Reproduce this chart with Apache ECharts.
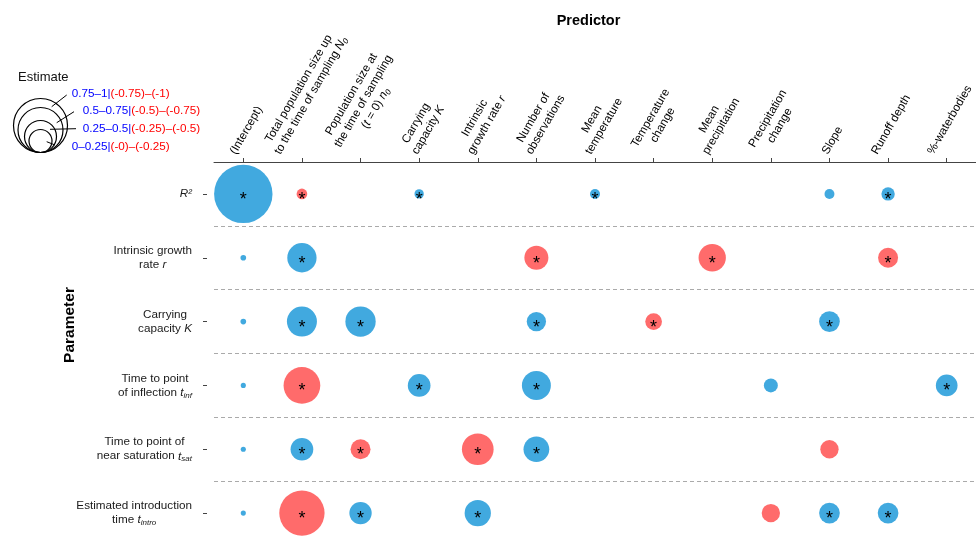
<!DOCTYPE html>
<html><head><meta charset="utf-8">
<script src="https://cdn.jsdelivr.net/npm/echarts@6/dist/echarts.min.js"></script>
<style>html,body{margin:0;padding:0;background:#fff}#c{width:976px;height:545px}</style>
</head><body><div id="c"></div>
<script>
// ---- categories (rich-text markup: n = normal, i = italic, s = subscript) ----
const predictors = [
  '{n|(Intercept)}',
  '{n|Total population size up}\n{n|to the time of sampling }{i|N}{s|0}',
  '{n|Population size at}\n{n|the time of sampling}\n{n|(}{i|t}{n| = 0) }{i|n}{s|0}',
  '{n|Carrying}\n{n|capacity }{i|K}',
  '{n|Intrinsic}\n{n|growth rate }{i|r}',
  '{n|Number of}\n{n|observations}',
  '{n|Mean}\n{n|temperature}',
  '{n|Temperature}\n{n|change}',
  '{n|Mean}\n{n|precipitation}',
  '{n|Precipitation}\n{n|change}',
  '{n|Slope}',
  '{n|Runoff depth}',
  '{n|%-waterbodies}'
];
const parameters = [
  '{i|R²}',
  '{n|Intrinsic growth}\n{n|rate }{i|r}',
  '{n|Carrying}\n{n|capacity }{i|K}',
  '{n|Time to point}\n{n|of inflection }{i|t}{s|inf}',
  '{n|Time to point of}\n{n|near saturation }{i|t}{s|sat}',
  '{n|Estimated introduction}\n{n|time }{i|t}{s|intro}'
];
// ---- estimates per parameter row (positive = blue, negative = red, null = none) ----
const estR2    = [1.17, -0.039, null, 0.030, null, null, 0.034, null, null, null, 0.034, 0.061, null];
const estR     = [0.011, 0.294, null, null, null, -0.198, null, null, -0.256, null, null, -0.137, null];
const estK     = [0.011, 0.309, 0.315, null, null, 0.128, null, -0.096, null, null, 0.147, null, null];
const estTinf  = [0.009, -0.462, null, 0.177, null, 0.288, null, null, null, 0.067, null, null, 0.161];
const estTsat  = [0.009, 0.177, -0.137, null, -0.345, 0.227, null, null, null, null, -0.115, null, null];
const estTintro= [0.009, -0.704, 0.171, null, 0.237, null, null, null, null, -0.115, 0.147, 0.147, null];
// ---- significance (1 = asterisk) ----
const sigR2    = [1,1,0,1,0,0,1,0,0,0,0,1,0];
const sigR     = [0,1,0,0,0,1,0,0,1,0,0,1,0];
const sigK     = [0,1,1,0,0,1,0,1,0,0,1,0,0];
const sigTinf  = [0,1,0,1,0,1,0,0,0,0,0,0,1];
const sigTsat  = [0,1,1,0,1,1,0,0,0,0,0,0,0];
const sigTintro= [0,1,1,0,1,0,0,0,0,0,1,1,0];
const legendLabels = [
  ['0.75–1|', '(-0.75)–(-1)'],
  ['0.5–0.75|', '(-0.5)–(-0.75)'],
  ['0.25–0.5|', '(-0.25)–(-0.5)'],
  ['0–0.25|', '(-0)–(-0.25)']
];

const estRows = [estR2, estR, estK, estTinf, estTsat, estTintro];
const sigRows = [sigR2, sigR, sigK, sigTinf, sigTsat, sigTintro];

const FONT = '"Liberation Sans", Arial, Helvetica, sans-serif';
const BLUE = '#41A9DF', RED = '#FF6B6B', TXT = '#1a1a1a';
const FS = 11.7, LH = 14;
const sizeOf = v => 54 * Math.sqrt(Math.abs(v));

function richSet(align) {
  return {
    n: {fontSize: FS, fontFamily: FONT, color: TXT, lineHeight: LH, align: align},
    i: {fontSize: FS, fontFamily: FONT, fontStyle: 'italic', color: TXT, lineHeight: LH, align: align},
    s: {fontSize: 8, fontFamily: FONT, fontStyle: 'italic', color: TXT, lineHeight: 8, verticalAlign: 'bottom', align: align}
  };
}

const data = [];
estRows.forEach((row, r) => row.forEach((v, c) => {
  if (v !== null) data.push([c, r, v, sigRows[r][c]]);
}));

const chart = echarts.init(document.getElementById('c'), null, {renderer: 'canvas'});
chart.setOption({
  animation: false,
  backgroundColor: '#fff',
  grid: {left: 214, top: 162, width: 766.4, height: 387.6},
  xAxis: {
    type: 'category', position: 'top', data: predictors, boundaryGap: true,
    axisLine: {show: true, lineStyle: {color: '#444', width: 1}},
    axisTick: {show: true, interval: 0, alignWithLabel: true, length: 4, lineStyle: {color: '#444'}},
    axisLabel: {show: false, interval: 0}, splitLine: {show: false}
  },
  yAxis: {
    type: 'category', data: parameters, inverse: true, offset: 7,
    axisLine: {show: false},
    axisTick: {show: true, interval: 0, alignWithLabel: true, length: 4, lineStyle: {color: '#444'}},
    axisLabel: {interval: 0, margin: 15, fontSize: FS, fontFamily: FONT, color: TXT, rich: richSet('center')},
    splitLine: {show: true, interval: 0, lineStyle: {type: [4, 3], color: '#aaa', width: 1}}
  },
  series: [{
    type: 'scatter', data: data, encode: {x: 0, y: 1},
    symbol: 'circle',
    symbolSize: val => sizeOf(val[2]),
    itemStyle: {color: p => p.value[2] < 0 ? RED : BLUE, opacity: 1},
    label: {
      show: true, position: 'inside', formatter: p => p.value[3] ? '*' : '',
      color: '#000', fontSize: 18, fontFamily: FONT, offset: [0, 6]
    },
    emphasis: {disabled: true}
  }]
});

// measure helper
const mctx = document.createElement('canvas').getContext('2d');
function lineWidth(line) {
  const re = /\{(\w+)\|([^}]*)\}/g; let m, w = 0;
  while ((m = re.exec(line))) {
    const st = m[1];
    mctx.font = (st === 'n' ? '' : 'italic ') + (st === 's' ? 8 : FS) + 'px ' + FONT;
    w += mctx.measureText(m[2]).width;
  }
  return w;
}

const graphics = [];
// top rotated predictor labels
const ang = Math.PI / 3;
predictors.forEach((lab, i) => {
  const tx = chart.convertToPixel({xAxisIndex: 0}, i);
  const lines = lab.split('\n');
  const W = Math.max(...lines.map(lineWidth));
  const H = lines.length * LH;
  const cy = 157 - (W / 2 * Math.sin(ang) + H / 2 * Math.cos(ang));
  graphics.push({
    type: 'text', x: tx + 3, y: cy, rotation: ang, silent: true,
    style: {text: lab, rich: richSet('center'), align: 'center', verticalAlign: 'middle', fontSize: FS, fontFamily: FONT}
  });
});
// axis titles
graphics.push({type: 'text', x: 588.5, y: 21, silent: true,
  style: {text: 'Predictor', fontSize: 14.5, fontWeight: 'bold', fontFamily: FONT, fill: '#000', align: 'center', verticalAlign: 'middle'}});
graphics.push({type: 'text', x: 70, y: 325, rotation: Math.PI / 2, silent: true,
  style: {text: 'Parameter', fontSize: 15.5, fontWeight: 'bold', fontFamily: FONT, fill: '#000', align: 'center', verticalAlign: 'middle'}});
// size legend
graphics.push({type: 'text', x: 18, y: 77, silent: true,
  style: {text: 'Estimate', fontSize: 13, fontFamily: FONT, fill: '#111', align: 'left', verticalAlign: 'middle'}});
const legCircles = [[27, 125.5], [22.5, 130], [16, 136.5], [11.5, 141]];
legCircles.forEach(([r, cy]) => graphics.push({type: 'circle', silent: true,
  shape: {cx: 40.5, cy: cy, r: r}, style: {fill: 'none', stroke: '#000', lineWidth: 1.2}}));
const legLines = [[51.7, 106.7, 66.7, 95], [56.7, 122.7, 74, 111.7], [50, 129.3, 76, 128.7], [46.7, 141.7, 55, 145]];
legLines.forEach(([x1, y1, x2, y2]) => graphics.push({type: 'line', silent: true,
  shape: {x1, y1, x2, y2}, style: {stroke: '#000', lineWidth: 1}}));
const legPos = [[71.7, 94], [82.7, 111], [82.7, 129], [71.7, 147]];
legendLabels.forEach((pair, k) => graphics.push({type: 'text', x: legPos[k][0], y: legPos[k][1], silent: true,
  style: {text: '{b|' + pair[0] + '}{r|' + pair[1] + '}', align: 'left', verticalAlign: 'middle',
    rich: {b: {fontSize: FS, fontFamily: FONT, fill: '#0000ff', color: '#0000ff'},
           r: {fontSize: FS, fontFamily: FONT, fill: '#ff0000', color: '#ff0000'}}}}));

chart.setOption({graphic: graphics});
</script>
</body></html>
